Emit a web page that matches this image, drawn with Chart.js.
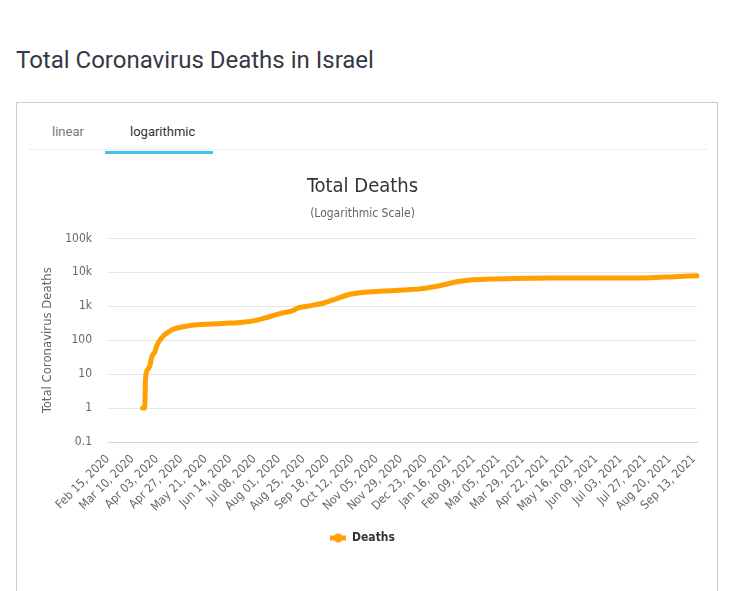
<!DOCTYPE html>
<html>
<head>
<meta charset="utf-8">
<script src="https://cdn.jsdelivr.net/npm/chart.js@4.4.0/dist/chart.umd.min.js"></script>
<style>
html,body{margin:0;padding:0;background:#fff;width:733px;height:591px;overflow:hidden;}
#h{position:absolute;left:16px;top:46px;font:400 24px/28px Roboto,sans-serif;color:#363945;white-space:nowrap;}
#card{position:absolute;left:16px;top:102px;width:700px;height:520px;border:1px solid #ccc;}
.tab{position:absolute;top:124px;font:400 13px/16px Roboto,sans-serif;white-space:nowrap;}
#t1{left:52px;color:#777;}
#t2{left:130px;color:#333;}
#sep{position:absolute;left:28px;top:149px;width:680px;height:1px;background:#eee;}
#bar{position:absolute;left:105px;top:151px;width:108px;height:3px;background:#3ac4f2;}
#wrap{position:absolute;left:28px;top:160px;width:680px;height:394px;}
</style>
</head>
<body>
<div id="h">Total Coronavirus Deaths in Israel</div>
<div id="card"></div>
<div class="tab" id="t1">linear</div>
<div class="tab" id="t2">logarithmic</div>
<div id="sep"></div>
<div id="bar"></div>
<div id="wrap"><canvas id="c"></canvas></div>
<script>
// ---- data ----
const monthNames = ["Jan","Feb","Mar","Apr","May","Jun","Jul","Aug","Sep","Oct","Nov","Dec"];
const firstCategory = "Feb 15, 2020";
const lastCategory = "Sep 16, 2021";
const labelEvery = 24;

const deathDates = [
  "Mar 20, 2020","Mar 21, 2020","Mar 22, 2020","Mar 23, 2020","Mar 24, 2020","Mar 26, 2020",
  "Mar 27, 2020","Mar 29, 2020","Apr 01, 2020","Apr 03, 2020","Apr 06, 2020","Apr 10, 2020",
  "Apr 15, 2020","Apr 20, 2020","Apr 29, 2020","May 12, 2020","May 28, 2020","Jun 14, 2020",
  "Jun 24, 2020","Jul 07, 2020","Jul 20, 2020","Aug 02, 2020","Aug 16, 2020","Aug 18, 2020",
  "Aug 29, 2020","Sep 14, 2020","Sep 27, 2020","Oct 10, 2020","Oct 27, 2020","Nov 12, 2020",
  "Nov 27, 2020","Dec 08, 2020","Dec 21, 2020","Jan 07, 2021","Jan 23, 2021","Feb 05, 2021",
  "Feb 25, 2021","Mar 20, 2021","Apr 25, 2021","Jun 01, 2021","Jul 01, 2021","Aug 01, 2021",
  "Aug 24, 2021","Sep 16, 2021"
];
const deathValues = [
  1,1,1,8,12,15,
  17,32,45,70,100,140,
  180,215,250,287,300,320,
  331,370,466,610,770,850,
  1000,1250,1683,2253,2630,2820,
  2950,3100,3350,4100,5250,5950,
  6350,6600,6800,6830,6850,6950,
  7440,7900
];

const yTickValues = [0.1,1,10,100,1000,10000,100000];
const yTickLabels = ["0.1","1","10","100","1k","10k","100k"];

// ---- categories (one per day) ----
function fmt(d){
  const dd = String(d.getDate()).padStart(2,"0");
  return monthNames[d.getMonth()] + " " + dd + ", " + d.getFullYear();
}
function parse(s){
  const m = monthNames.indexOf(s.slice(0,3));
  const day = parseInt(s.slice(4,6),10);
  const y = parseInt(s.slice(8),10);
  return new Date(y,m,day);
}
const categories = [];
for (let d = parse(firstCategory); d <= parse(lastCategory); d.setDate(d.getDate()+1)) {
  categories.push(fmt(d));
}

const ORANGE = "#FFA000";
const FONT = "'DejaVu Sans Condensed','DejaVu Sans',sans-serif";

// legend marker: line with a circle
const marker = document.createElement("canvas");
marker.width = 16; marker.height = 11;
(function(){
  const g = marker.getContext("2d");
  g.fillStyle = ORANGE;
  g.fillRect(0,3,16,5);
  g.beginPath(); g.arc(8,5.5,4.5,0,Math.PI*2); g.fill();
})();

new Chart(document.getElementById("c"), {
  type: "line",
  data: {
    labels: categories,
    datasets: [{
      label: "Deaths",
      data: deathDates.map((d,i)=>({x:d, y:deathValues[i]})),
      borderColor: ORANGE,
      backgroundColor: ORANGE,
      borderWidth: 5,
      pointRadius: 0,
      borderCapStyle: "round",
      borderJoinStyle: "round",
      cubicInterpolationMode: "monotone",
      fill: false
    }]
  },
  options: {
    responsive: true,
    maintainAspectRatio: false,
    animation: false,
    layout: { padding: { left: 0, right: 11, top: 0, bottom: 0 } },
    plugins: {
      title: {
        display: true, text: "Total Deaths", color: "#333",
        font: { family: FONT, size: 20, weight: "normal" },
        padding: { top: 15, bottom: 6 }
      },
      subtitle: {
        display: true, text: "(Logarithmic Scale)", color: "#666",
        font: { family: FONT, size: 12, weight: "normal" },
        padding: { top: 2, bottom: 17 }
      },
      legend: {
        position: "bottom",
        labels: {
          usePointStyle: true,
          pointStyleWidth: 16,
          color: "#333",
          font: { family: FONT, size: 12, weight: "bold" },
          padding: 10,
          generateLabels: () => [{
            text: "Deaths", pointStyle: marker, fillStyle: ORANGE, strokeStyle: ORANGE,
            lineWidth: 0, hidden: false, datasetIndex: 0, fontColor: "#333"
          }]
        }
      },
      tooltip: { enabled: false }
    },
    scales: {
      x: {
        type: "category",
        grid: { display: false },
        border: { display: true, color: "#ccd6eb", width: 1 },
        ticks: {
          autoSkip: false, maxRotation: 45, minRotation: 45,
          color: "#666", font: { family: FONT, size: 12 }, padding: 2,
          callback: function(v, i){ return i % labelEvery === 0 ? this.getLabelForValue(v) : null; }
        },
        afterFit: s => { s.height = 80; }
      },
      y: {
        type: "logarithmic",
        min: 0.1, max: 100000,
        afterBuildTicks: s => { s.ticks = yTickValues.map(v => ({ value: v })); },
        ticks: {
          color: "#666", font: { family: FONT, size: 12 }, padding: 16,
          callback: v => { const k = yTickValues.indexOf(v); return k >= 0 ? yTickLabels[k] : null; }
        },
        grid: {
          drawTicks: false,
          color: ctx => (ctx.tick && ctx.tick.value === 0.1) ? "#ccd6eb" : "#e6e6e6"
        },
        border: { display: false },
        title: {
          display: true, text: "Total Coronavirus Deaths", color: "#666",
          font: { family: FONT, size: 13, weight: "normal" },
          padding: { top: 12, bottom: 0 }
        },
        afterFit: s => { s.width = 80; }
      }
    }
  }
});
</script>
</body>
</html>
